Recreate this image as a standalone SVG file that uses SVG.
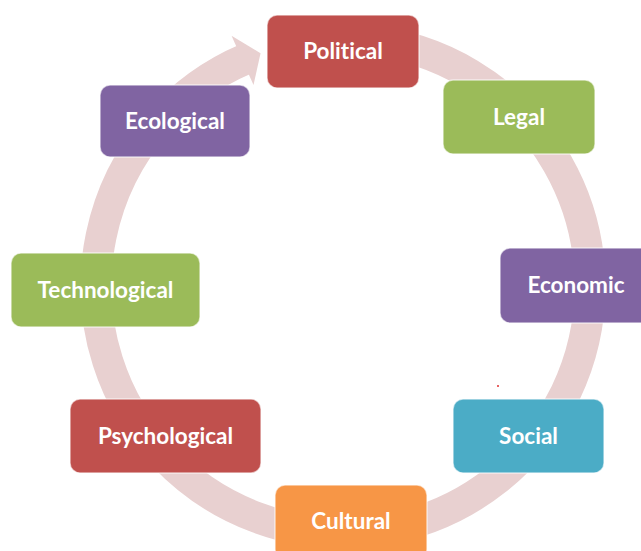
<svg xmlns="http://www.w3.org/2000/svg" width="641" height="551" viewBox="0 0 641 551">
  <style>
    .node rect { stroke: #ffffff; stroke-opacity: 0.6; stroke-width: 1.5; }
    .node text { font-family: Lato, "Open Sans", "Liberation Sans", sans-serif; font-weight: bold; font-size: 22.5px; fill: #ffffff; text-anchor: middle; font-variant-ligatures: none; }
    .red rect { fill: #c0504d; }
    .green rect { fill: #9bbb59; }
    .purple rect { fill: #8064a2; }
    .teal rect { fill: #4bacc6; }
    .orange rect { fill: #f79646; }
    .ring { fill: none; stroke: #e8d0d0; stroke-width: 31; stroke-linecap: butt; }
    .ringhead { fill: #e8d0d0; }
  </style>
  <rect width="641" height="551" fill="#ffffff"/>
  <g id="connectors">
    <path class="ring" d="M 364.53 39.94 A 247 247 0 1 1 246.49 58.64"/>
    <polygon class="ringhead" points="231.55,35.69 260.55,53.17 253.52,85.02"/>
  </g>
  <g id="node-political" class="node red">
    <rect x="267" y="15" width="152" height="73" rx="10"/>
    <text x="343" y="59">Political</text>
  </g>
  <g id="node-legal" class="node green">
    <rect x="443" y="80" width="152" height="74" rx="10"/>
    <text x="519" y="125">Legal</text>
  </g>
  <g id="node-economic" class="node purple">
    <rect x="500" y="248" width="152" height="75" rx="10"/>
    <text x="576" y="293">Economic</text>
  </g>
  <g id="node-social" class="node teal">
    <rect x="453" y="399" width="151" height="74" rx="10"/>
    <text x="528.5" y="444">Social</text>
  </g>
  <g id="node-cultural" class="node orange">
    <rect x="275" y="485" width="152" height="74" rx="10"/>
    <text x="351" y="529">Cultural</text>
  </g>
  <g id="node-psychological" class="node red">
    <rect x="70" y="399" width="191" height="74" rx="10"/>
    <text x="165.5" y="444">Psychological</text>
  </g>
  <g id="node-technological" class="node green">
    <rect x="11" y="253" width="189" height="74" rx="10"/>
    <text x="105.5" y="298">Technological</text>
  </g>
  <g id="node-ecological" class="node purple">
    <rect x="100" y="85" width="150" height="72" rx="10"/>
    <text x="175" y="129">Ecological</text>
  </g>
  <circle cx="498" cy="386" r="1" fill="#e03030"/>
</svg>
